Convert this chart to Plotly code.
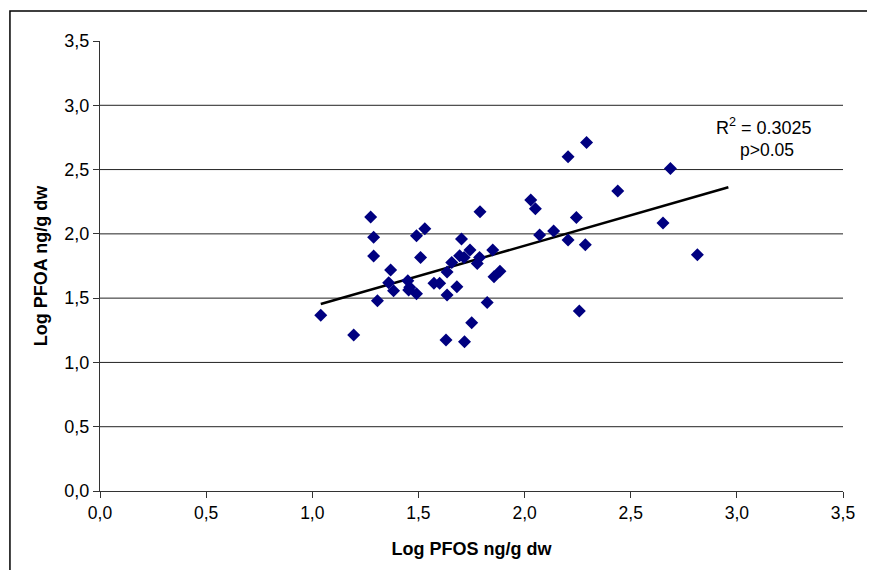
import plotly.graph_objects as go

# Data (Log PFOS vs Log PFOA, ng/g dw)
log_pfos = [1.040, 1.195, 1.275, 1.289, 1.289, 1.307, 1.369, 1.360, 1.383, 1.450,
            1.459, 1.454, 1.491, 1.491, 1.530, 1.510, 1.573, 1.600, 1.635, 1.657,
            1.635, 1.681, 1.703, 1.694, 1.715, 1.743, 1.790, 1.777, 1.788, 1.850,
            1.856, 1.884, 1.824, 1.751, 1.630, 1.717, 2.029, 2.051, 2.071, 2.205,
            2.292, 2.137, 2.244, 2.205, 2.286, 2.439, 2.258, 2.687, 2.652, 2.814]
log_pfoa = [1.366, 1.213, 2.131, 1.973, 1.827, 1.480, 1.718, 1.620, 1.558, 1.635,
            1.584, 1.563, 1.534, 1.985, 2.040, 1.817, 1.615, 1.615, 1.703, 1.778,
            1.524, 1.589, 1.960, 1.830, 1.817, 1.874, 2.172, 1.770, 1.817, 1.874,
            1.667, 1.709, 1.467, 1.309, 1.174, 1.161, 2.263, 2.195, 1.991, 2.600,
            2.711, 2.022, 2.128, 1.952, 1.915, 2.333, 1.400, 2.509, 2.084, 1.838]

# Linear trend line as shown on the chart
trend_slope = 0.473
trend_intercept = 0.962
trend_x = [1.04, 2.96]
trend_y = [trend_intercept + trend_slope * v for v in trend_x]

tick_vals = [0.0, 0.5, 1.0, 1.5, 2.0, 2.5, 3.0, 3.5]
grid_vals = [0.5, 1.0, 1.5, 2.0, 2.5, 3.0]

r2_text = "R<sup>2</sup> = 0.3025"
p_text = "p>0.05"

FONT = "Liberation Sans, Arial, sans-serif"

fig = go.Figure()
fig.add_trace(go.Scatter(
    x=trend_x, y=trend_y, mode="lines",
    line=dict(color="black", width=2.5), showlegend=False))
fig.add_trace(go.Scatter(
    x=log_pfos, y=log_pfoa, mode="markers",
    marker=dict(symbol="diamond", size=10, color="#000080",
                line=dict(width=0)),
    showlegend=False, cliponaxis=False))

shapes = []
for g in grid_vals:
    shapes.append(dict(type="line", xref="paper", yref="y", x0=0, x1=1,
                       y0=g, y1=g, line=dict(color="#222222", width=1),
                       layer="below"))
# outer chart frame (extends past the right and bottom edges)
shapes.append(dict(type="rect", xref="paper", yref="paper",
                   x0=-0.1212, x1=1.2, y0=-0.4, y1=1.0667,
                   line=dict(color="black", width=1.5), fillcolor="rgba(0,0,0,0)"))

fig.update_layout(
    width=859, height=562,
    margin=dict(l=92, r=14, t=33, b=79),
    paper_bgcolor="white", plot_bgcolor="white",
    separators=",.",
    font=dict(family=FONT, size=17, color="black"),
    shapes=shapes,
    annotations=[
        dict(x=3.13, y=2.838, xref="x", yref="y", text=r2_text, showarrow=False,
             font=dict(family=FONT, size=18, color="black")),
        dict(x=3.14, y=2.652, xref="x", yref="y", text=p_text, showarrow=False,
             font=dict(family=FONT, size=17.5, color="black")),
    ],
    xaxis=dict(range=[0, 3.5], tickvals=tick_vals, tickformat=".1f",
               showgrid=False, zeroline=False, showline=True,
               linecolor="#333333", linewidth=1, ticks="outside", ticklen=6,
               tickcolor="#333333", tickfont=dict(family=FONT, size=17.5),
               title=dict(text="<b>Log PFOS ng/g dw</b>", standoff=20,
                          font=dict(family=FONT, size=18))),
    yaxis=dict(range=[0, 3.5], tickvals=tick_vals, tickformat=".1f",
               showgrid=False, zeroline=False, showline=True,
               linecolor="#333333", linewidth=1, ticks="outside", ticklen=6,
               tickcolor="#333333", tickfont=dict(family=FONT, size=18),
               title=dict(text="<b>Log PFOA ng/g dw</b>", standoff=12,
                          font=dict(family=FONT, size=18))),
)

fig.write_html("out.html")
